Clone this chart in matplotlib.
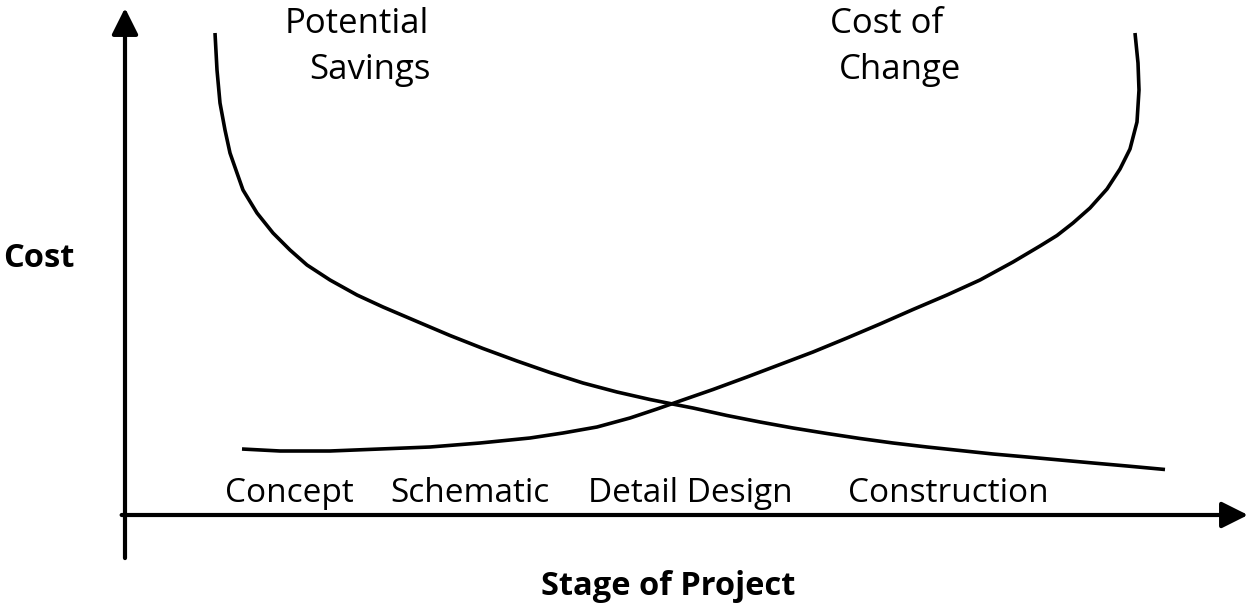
"""Cost of change vs potential savings over project stages (concept sketch)."""
import matplotlib
matplotlib.use("Agg")
import matplotlib.pyplot as plt

plt.rcParams["font.family"] = ["Open Sans", "DejaVu Sans"]

# curves: x = stage of project, y = cost (arbitrary units)
savings_x = [90, 92, 95, 100, 105, 112, 118, 132, 148, 165, 182, 205, 232, 258, 292, 325, 358,
             392, 425, 458, 492, 525, 550, 568, 602, 635, 668, 702, 735, 768, 802, 835, 868,
             902, 935, 968, 1002, 1040]
savings_y = [482, 445, 412, 385, 362, 342, 325, 302, 282, 265, 250, 235, 220, 208, 193.5, 179.5,
             166.5, 154, 142.5, 132, 123, 115.5, 110.5, 107, 99.5, 93, 87, 81.5, 76.5, 72, 68,
             64.5, 61, 58, 55, 52, 49, 45.5]
change_x = [117, 155, 205, 255, 305, 355, 405, 438, 472, 505, 532, 552, 588, 622, 655, 688, 722,
            755, 788, 822, 855, 888, 915, 932, 948, 965, 982, 995, 1005, 1012, 1014, 1013, 1010]
change_y = [66, 64, 64, 66, 68, 72, 77, 82, 88, 97, 106, 113, 125.5, 138, 150.5, 163, 177,
            191, 205.5, 220, 235, 253, 269, 279.5, 292, 307, 326, 346, 366, 393, 425, 452, 482]

stages = ["Concept", "Schematic", "Detail Design", "Construction"]
stage_x = [164, 345, 565, 823]

fig = plt.figure(figsize=(12.55, 6.09), dpi=100)
ax = fig.add_axes([125 / 1255, 94 / 609, 1123 / 1255, 507 / 609])
ax.set_xlim(0, 1123); ax.set_ylim(0, 507)
ax.axis("off")

for xs, ys in [(savings_x, savings_y), (change_x, change_y)]:
    ax.plot(xs, ys, color="black", lw=2.6, solid_capstyle="butt", solid_joinstyle="round")

# axes drawn as arrows
arrow = dict(arrowstyle="-|>,head_length=0.4,head_width=0.2", lw=3, color="black",
             mutation_scale=40, shrinkA=0, shrinkB=0)
ax.annotate("", xy=(0, 1.0), xytext=(0, -0.085), xycoords="axes fraction",
            arrowprops=arrow, annotation_clip=False)
ax.annotate("", xy=(1.0, 0), xytext=(-0.003, 0), xycoords="axes fraction",
            arrowprops=arrow, annotation_clip=False)

for name, x in zip(stages, stage_x):
    ax.text(x, 13, name, ha="center", va="baseline", fontsize=24)

ax.text(232, 482, "Potential", ha="center", va="baseline", fontsize=25)
ax.text(245, 436, "Savings", ha="center", va="baseline", fontsize=25)
ax.text(762, 482, "Cost of", ha="center", va="baseline", fontsize=25)
ax.text(775, 436, "Change", ha="center", va="baseline", fontsize=25)

ax.text(-86, 248, "Cost", ha="center", va="baseline", fontsize=23.5,
        fontweight="bold", clip_on=False)
ax.text(543, -80, "Stage of Project", ha="center", va="baseline", fontsize=23.5,
        fontweight="bold", clip_on=False)

fig.savefig("out.png", dpi=100)
